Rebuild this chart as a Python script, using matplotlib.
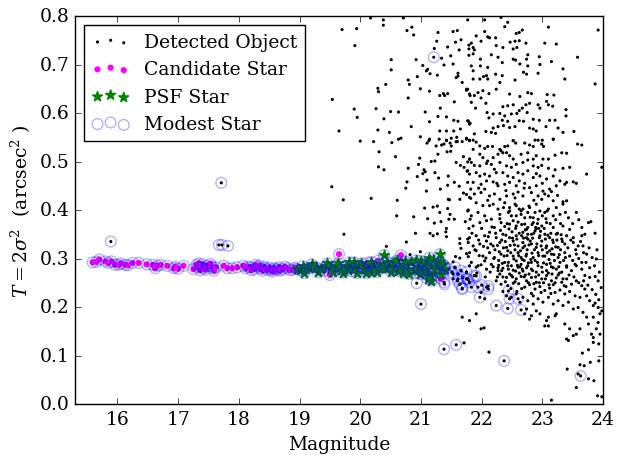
import numpy as np
import matplotlib
matplotlib.use("Agg")
import matplotlib.pyplot as plt

plt.style.use("classic")
plt.rcParams["font.family"] = ["DejaVu Serif"]
plt.rcParams["mathtext.fontset"] = "dejavuserif"
plt.rcParams["font.size"] = 13.5

# detected objects (magnitude, T)
det_upper = [
    (20.17, 0.796), (20.38, 0.792), (20.38, 0.781), (20.71, 0.796), (19.70, 0.772), (19.94, 0.774),
    (20.77, 0.770), (20.85, 0.777), (20.88, 0.761), (21.28, 0.766), (21.53, 0.768), (21.60, 0.770),
    (21.26, 0.748), (21.57, 0.746), (21.66, 0.751), (21.79, 0.740), (19.91, 0.739), (21.44, 0.736),
    (21.22, 0.733), (21.63, 0.730), (21.79, 0.719), (21.34, 0.713), (21.49, 0.718),
    (20.51, 0.710), (20.92, 0.710), (21.03, 0.698), (21.38, 0.699), (21.53, 0.701), (20.51, 0.689),
    (21.09, 0.687), (21.11, 0.690), (21.15, 0.681), (21.27, 0.678), (20.94, 0.675), (21.61, 0.682),
    (21.61, 0.676), (21.58, 0.673), (20.79, 0.668), (20.81, 0.659), (20.42, 0.659), (21.68, 0.663),
    (21.77, 0.649), (21.75, 0.647), (20.29, 0.651), (20.30, 0.644), (20.99, 0.650), (21.14, 0.645),
    (21.31, 0.636), (21.37, 0.640), (21.39, 0.636), (21.44, 0.640), (21.81, 0.636), (19.54, 0.628),
    (20.79, 0.631), (21.55, 0.623), (19.90, 0.608), (20.26, 0.609), (20.50, 0.603), (20.63, 0.602),
    (21.32, 0.610), (21.07, 0.602), (19.95, 0.591), (20.39, 0.588), (21.28, 0.593), (21.42, 0.592),
    (21.54, 0.585), (21.61, 0.583), (21.78, 0.583), (21.14, 0.582), (21.80, 0.577), (19.65, 0.563),
    (20.29, 0.565), (20.48, 0.560), (20.84, 0.572), (21.31, 0.563), (21.42, 0.563), (21.54, 0.563),
    (21.65, 0.567), (20.63, 0.546), (20.67, 0.548), (20.99, 0.551), (21.13, 0.543), (21.30, 0.546),
    (21.42, 0.544), (21.50, 0.548), (21.59, 0.550), (21.58, 0.541), (21.80, 0.544), (21.75, 0.548),
    (20.00, 0.542), (20.22, 0.541), (20.52, 0.539),
    # right upper
    (21.77, 0.792), (22.05, 0.792), (22.32, 0.797), (22.38, 0.778), (22.43, 0.787), (23.10, 0.777),
    (23.92, 0.771), (22.05, 0.768), (21.91, 0.759), (22.10, 0.757), (22.13, 0.755), (22.23, 0.755),
    (21.99, 0.748), (21.83, 0.744), (21.86, 0.735), (21.79, 0.732), (21.88, 0.730), (21.86, 0.722),
    (22.57, 0.764), (22.62, 0.766), (22.67, 0.771), (22.47, 0.746), (22.55, 0.748), (22.62, 0.749),
    (22.73, 0.744), (23.04, 0.744), (23.23, 0.742), (22.24, 0.739), (22.35, 0.735), (22.52, 0.732),
    (22.58, 0.735), (21.98, 0.711), (22.16, 0.720), (22.34, 0.704), (22.27, 0.715), (22.52, 0.711),
    (22.56, 0.709), (22.63, 0.701), (22.74, 0.711), (22.76, 0.720), (22.95, 0.716), (23.15, 0.706),
    (23.58, 0.715), (21.83, 0.697), (21.98, 0.697), (22.10, 0.694), (21.86, 0.687), (22.96, 0.700),
    (22.76, 0.697), (23.34, 0.691), (21.86, 0.670), (21.97, 0.670), (22.03, 0.675), (22.08, 0.677),
    (22.10, 0.670), (22.23, 0.680), (22.34, 0.677), (22.69, 0.684), (22.74, 0.680), (22.93, 0.682),
    (23.37, 0.670), (23.87, 0.660), (22.55, 0.668), (22.30, 0.663), (21.75, 0.649), (21.80, 0.639),
    (21.88, 0.636), (21.94, 0.642), (22.02, 0.646), (22.12, 0.640), (22.24, 0.649), (22.46, 0.639),
    (22.63, 0.634), (22.76, 0.642), (22.82, 0.640), (23.08, 0.638), (23.19, 0.637), (21.83, 0.622),
    (21.90, 0.610), (21.99, 0.631), (22.07, 0.620), (22.35, 0.613), (22.43, 0.615), (22.52, 0.617),
    (22.62, 0.605), (22.67, 0.610), (22.73, 0.617), (22.79, 0.620), (22.93, 0.617), (22.96, 0.610),
    (23.07, 0.624), (23.10, 0.617), (23.17, 0.614), (23.39, 0.607), (22.09, 0.601), (22.19, 0.598),
    (22.30, 0.599), (22.38, 0.594), (22.49, 0.598), (22.58, 0.599), (22.75, 0.601), (21.77, 0.584),
    (21.81, 0.579), (22.12, 0.590), (22.34, 0.585), (22.43, 0.583), (22.62, 0.584), (22.69, 0.583),
    (22.85, 0.587), (22.95, 0.585), (23.12, 0.585), (23.21, 0.585), (23.39, 0.594), (22.19, 0.569),
    (22.27, 0.572), (22.36, 0.574), (22.46, 0.570), (22.55, 0.572), (22.79, 0.569), (22.85, 0.567),
    (22.90, 0.563), (23.06, 0.572), (23.26, 0.569), (23.34, 0.560), (23.52, 0.562), (21.88, 0.557),
    (22.07, 0.562), (22.16, 0.560), (22.23, 0.558), (22.52, 0.543), (22.88, 0.544), (22.93, 0.544),
    (23.00, 0.544), (23.18, 0.546), (21.75, 0.546), (21.86, 0.544),
]

det_middle = [
    (21.10, 0.538), (21.14, 0.546), (21.25, 0.532), (21.34, 0.534), (21.38, 0.536), (21.42, 0.543),
    (21.48, 0.538), (21.50, 0.532), (21.60, 0.541), (21.68, 0.541), (20.31, 0.520), (20.58, 0.510),
    (21.43, 0.520), (21.49, 0.521), (21.28, 0.515), (21.70, 0.510), (20.98, 0.507), (21.17, 0.500),
    (21.23, 0.501), (21.80, 0.505), (21.77, 0.499), (20.30, 0.489), (20.39, 0.483), (20.79, 0.486),
    (20.96, 0.494), (21.58, 0.498), (21.65, 0.492), (21.71, 0.488), (21.05, 0.483), (21.07, 0.479),
    (21.03, 0.475), (21.23, 0.477), (21.76, 0.480), (21.45, 0.470), (21.29, 0.466), (20.94, 0.469),
    (21.10, 0.462), (20.77, 0.458), (21.55, 0.457), (21.44, 0.451), (21.63, 0.449), (21.32, 0.443),
    (19.53, 0.448), (20.75, 0.445), (21.09, 0.439), (21.70, 0.435), (21.82, 0.443), (21.75, 0.432),
    (19.72, 0.421), (20.18, 0.424), (20.61, 0.420), (21.45, 0.422), (21.47, 0.421), (21.64, 0.422),
    (21.82, 0.424), (21.06, 0.404), (21.20, 0.406), (21.27, 0.408), (21.44, 0.403), (21.78, 0.400),
    (21.31, 0.395), (21.48, 0.391), (21.46, 0.381), (21.55, 0.381), (21.81, 0.381), (20.60, 0.388),
    (20.88, 0.386), (21.11, 0.382), (21.22, 0.373), (21.33, 0.376), (21.73, 0.376), (21.42, 0.362),
    (21.79, 0.362), (21.15, 0.352), (21.20, 0.347), (21.27, 0.351), (21.41, 0.355), (21.42, 0.345),
    (19.73, 0.350), (20.91, 0.352), (20.76, 0.334), (20.43, 0.325), (20.99, 0.314), (20.82, 0.308),
    (21.64, 0.341), (21.77, 0.340), (21.78, 0.333), (21.66, 0.321), (21.75, 0.310), (21.64, 0.331),
    (21.57, 0.304), (21.64, 0.301), (21.78, 0.304), (21.53, 0.293),
    # faint side, upper half of the cloud
    (21.80, 0.543), (21.91, 0.540), (21.97, 0.532), (22.05, 0.527), (22.10, 0.531), (22.18, 0.531),
    (22.30, 0.525), (22.38, 0.531), (22.43, 0.532), (22.52, 0.543), (22.56, 0.538), (22.71, 0.538),
    (22.79, 0.534), (22.85, 0.531), (22.99, 0.536), (23.02, 0.531), (23.18, 0.546), (23.58, 0.536),
    (23.65, 0.534), (21.86, 0.525), (22.35, 0.518), (21.80, 0.505), (21.83, 0.498), (21.97, 0.515),
    (22.02, 0.508), (22.10, 0.501), (22.19, 0.508), (22.27, 0.515), (22.32, 0.522), (22.41, 0.518),
    (22.46, 0.512), (22.52, 0.505), (22.65, 0.515), (22.76, 0.518), (22.85, 0.505), (22.90, 0.512),
    (23.01, 0.505), (23.10, 0.505), (23.21, 0.513), (23.32, 0.518), (23.40, 0.517), (21.77, 0.481),
    (21.88, 0.492), (21.97, 0.491), (22.08, 0.496), (22.16, 0.494), (22.21, 0.484), (22.30, 0.498),
    (22.41, 0.491), (22.49, 0.488), (22.57, 0.494), (22.68, 0.498), (22.76, 0.503), (22.85, 0.491),
    (22.93, 0.488), (22.99, 0.492), (23.10, 0.486), (23.21, 0.483), (23.34, 0.486), (23.45, 0.488),
    (23.73, 0.474), (23.98, 0.488), (21.80, 0.474), (21.91, 0.477), (21.97, 0.470), (22.05, 0.474),
    (22.13, 0.470), (22.24, 0.477), (22.35, 0.477), (22.43, 0.470), (22.52, 0.467), (22.60, 0.477),
    (22.68, 0.474), (22.76, 0.481), (22.85, 0.467), (22.96, 0.470), (23.07, 0.464), (23.18, 0.470),
    (23.29, 0.460), (23.40, 0.457), (23.51, 0.458), (23.56, 0.455), (21.77, 0.457), (21.86, 0.457),
    (21.99, 0.453), (22.08, 0.460), (22.19, 0.458), (22.27, 0.450), (22.38, 0.453), (22.46, 0.457),
    (22.57, 0.450), (22.71, 0.455), (22.79, 0.446), (22.90, 0.450), (23.01, 0.439), (23.04, 0.433),
    (23.12, 0.443), (23.23, 0.450), (23.37, 0.453), (21.80, 0.426), (21.88, 0.433), (21.99, 0.436),
    (22.05, 0.443), (22.13, 0.429), (22.21, 0.433), (22.30, 0.422), (22.41, 0.429), (22.52, 0.433),
    (22.60, 0.437), (22.68, 0.429), (22.82, 0.436), (22.93, 0.429), (22.99, 0.422), (23.10, 0.429),
    (23.18, 0.419), (23.34, 0.417), (23.40, 0.419), (21.77, 0.398), (21.91, 0.415), (22.02, 0.409),
    (22.13, 0.409), (22.19, 0.412), (22.27, 0.402), (22.38, 0.415), (22.46, 0.405), (22.57, 0.409),
    (22.68, 0.402), (22.79, 0.405), (22.90, 0.412), (22.96, 0.398), (23.10, 0.402), (23.23, 0.405),
    (23.34, 0.412), (21.83, 0.388), (21.94, 0.395), (22.05, 0.388), (22.16, 0.381), (22.30, 0.391),
    (22.46, 0.398), (22.57, 0.388), (22.65, 0.391), (22.76, 0.395), (22.85, 0.384), (22.93, 0.381),
    (23.04, 0.395), (23.18, 0.388), (23.29, 0.391), (23.43, 0.384), (23.56, 0.395),
]

det_core = [
    (21.86, 0.367), (21.97, 0.374), (22.08, 0.378), (22.21, 0.364), (22.32, 0.374), (22.46, 0.371),
    (22.57, 0.367), (22.71, 0.371), (22.76, 0.364), (22.85, 0.374), (22.90, 0.362), (22.99, 0.367),
    (23.07, 0.374), (23.18, 0.364), (23.34, 0.367), (23.45, 0.360), (23.65, 0.364), (23.76, 0.374),
    (23.80, 0.376), (23.87, 0.352), (21.80, 0.343), (21.91, 0.347), (22.05, 0.347), (22.13, 0.354),
    (22.24, 0.343), (22.35, 0.350), (22.46, 0.343), (22.57, 0.347), (22.68, 0.354), (22.74, 0.343),
    (22.82, 0.350), (22.88, 0.357), (22.96, 0.347), (23.04, 0.350), (23.12, 0.343), (23.23, 0.350),
    (23.32, 0.340), (23.40, 0.347), (23.51, 0.343), (23.65, 0.347), (23.70, 0.350), (21.86, 0.326),
    (21.97, 0.330), (22.08, 0.336), (22.19, 0.326), (22.30, 0.333), (22.41, 0.323), (22.52, 0.336),
    (22.60, 0.326), (22.68, 0.333), (22.76, 0.340), (22.82, 0.330), (22.90, 0.323), (22.99, 0.336),
    (23.07, 0.326), (23.18, 0.333), (23.26, 0.323), (23.37, 0.330), (23.51, 0.333), (23.59, 0.326),
    (23.67, 0.326), (21.80, 0.312), (21.91, 0.316), (22.02, 0.305), (22.13, 0.312), (22.21, 0.302),
    (22.32, 0.309), (22.43, 0.316), (22.52, 0.305), (22.60, 0.312), (22.65, 0.302), (22.74, 0.309),
    (22.85, 0.302), (22.93, 0.312), (23.04, 0.305), (23.15, 0.309), (23.26, 0.302), (23.37, 0.312),
    (23.45, 0.305), (23.56, 0.309), (23.73, 0.309), (23.89, 0.299), (21.83, 0.292), (21.94, 0.285),
    (22.05, 0.295), (22.16, 0.288), (22.27, 0.281), (22.38, 0.292), (22.49, 0.285), (22.57, 0.295),
    (22.65, 0.288), (22.74, 0.281), (22.82, 0.292), (22.93, 0.285), (23.07, 0.288), (23.18, 0.281),
    (23.29, 0.292), (23.40, 0.285), (23.54, 0.288), (23.65, 0.292), (23.78, 0.281),
    (22.22, 0.318), (22.28, 0.296), (22.33, 0.338), (22.37, 0.305), (22.40, 0.348), (22.44, 0.292),
    (22.47, 0.327), (22.50, 0.355), (22.53, 0.299), (22.55, 0.318), (22.58, 0.340), (22.61, 0.306),
    (22.63, 0.283), (22.66, 0.347), (22.68, 0.322), (22.70, 0.296), (22.72, 0.359), (22.75, 0.318),
    (22.77, 0.291), (22.80, 0.336), (22.83, 0.311), (22.86, 0.352), (22.88, 0.296), (22.91, 0.330),
    (22.94, 0.306), (22.97, 0.356), (23.00, 0.318), (23.02, 0.291), (23.05, 0.340), (23.08, 0.312),
    (23.11, 0.298), (23.14, 0.352), (23.16, 0.320), (23.20, 0.296), (23.24, 0.338), (23.28, 0.308),
    (23.31, 0.349), (23.35, 0.296), (22.46, 0.268), (22.55, 0.252), (22.62, 0.270), (22.70, 0.262),
    (22.78, 0.268), (22.86, 0.248), (22.94, 0.266), (23.02, 0.250), (23.10, 0.270), (23.18, 0.246),
    (23.26, 0.266), (23.36, 0.244), (22.35, 0.262), (22.28, 0.286), (22.14, 0.272), (22.20, 0.300),
    (22.06, 0.262), (22.10, 0.322), (21.96, 0.306), (21.92, 0.270), (22.38, 0.366), (22.52, 0.378),
    (22.66, 0.370), (22.80, 0.385), (22.92, 0.372), (23.06, 0.382), (22.44, 0.395), (22.62, 0.402),
    (22.74, 0.360), (22.58, 0.232), (22.66, 0.238), (22.82, 0.228), (22.98, 0.230), (23.14, 0.228),
    (22.35, 0.232), (22.48, 0.238),
]

det_core_extra = [
    (21.84, 0.352), (21.89, 0.318), (21.95, 0.338), (22.00, 0.362), (22.03, 0.325), (22.07, 0.301),
    (22.11, 0.345), (22.15, 0.330), (22.17, 0.365), (22.23, 0.352), (22.26, 0.327), (22.29, 0.314),
    (22.31, 0.358), (22.34, 0.290), (22.36, 0.322), (22.39, 0.335), (22.42, 0.306), (22.45, 0.361),
    (22.48, 0.312), (22.51, 0.342), (22.54, 0.328), (22.56, 0.362), (22.59, 0.286), (22.62, 0.352),
    (22.64, 0.316), (22.67, 0.298), (22.69, 0.342), (22.71, 0.326), (22.73, 0.305), (22.76, 0.350),
    (22.78, 0.328), (22.81, 0.298), (22.84, 0.342), (22.87, 0.318), (22.89, 0.364), (22.92, 0.292),
    (22.95, 0.343), (22.98, 0.326), (23.01, 0.305), (23.03, 0.362), (23.06, 0.322), (23.09, 0.348),
    (23.12, 0.316), (23.13, 0.290), (23.17, 0.338), (23.19, 0.308), (23.22, 0.324), (23.25, 0.352),
    (23.27, 0.283), (23.30, 0.318), (23.33, 0.335), (23.38, 0.302), (23.42, 0.322), (23.47, 0.338),
    (23.50, 0.296), (23.55, 0.318), (23.60, 0.300), (23.63, 0.335), (23.68, 0.312), (23.72, 0.292),
    (23.77, 0.322), (23.82, 0.302), (23.86, 0.285), (23.90, 0.318), (23.94, 0.272), (23.97, 0.240),
    (22.26, 0.262), (22.33, 0.275), (22.39, 0.252), (22.44, 0.278), (22.51, 0.262), (22.56, 0.274),
    (22.61, 0.248), (22.67, 0.278), (22.72, 0.266), (22.77, 0.250), (22.84, 0.275), (22.89, 0.262),
    (22.95, 0.250), (23.00, 0.272), (23.05, 0.258), (23.11, 0.246), (23.16, 0.268), (23.21, 0.250),
    (23.28, 0.270), (23.34, 0.258), (23.39, 0.242), (23.44, 0.266), (23.52, 0.262), (23.60, 0.250),
    (23.68, 0.254), (23.75, 0.245), (23.82, 0.236), (23.88, 0.226), (23.93, 0.215),
    (22.30, 0.382), (22.36, 0.405), (22.42, 0.372), (22.49, 0.388), (22.55, 0.412), (22.60, 0.375),
    (22.65, 0.398), (22.71, 0.384), (22.78, 0.408), (22.83, 0.370), (22.88, 0.395), (22.94, 0.362),
    (23.00, 0.388), (23.08, 0.398), (23.13, 0.372), (23.22, 0.380), (23.30, 0.372), (23.38, 0.395),
    (23.50, 0.372), (23.60, 0.380), (22.40, 0.440), (22.55, 0.425), (22.70, 0.445), (22.86, 0.420),
    (23.00, 0.455), (23.15, 0.438), (22.25, 0.455), (22.10, 0.420), (21.95, 0.445), (22.62, 0.460),
    (22.90, 0.475), (23.25, 0.430),
]

det_lower = [
    (21.80, 0.285), (21.91, 0.282), (21.99, 0.287), (22.08, 0.278), (22.19, 0.283), (22.27, 0.275),
    (22.35, 0.280), (22.43, 0.285), (22.52, 0.276), (22.60, 0.282), (22.68, 0.274), (22.76, 0.285),
    (22.82, 0.278), (22.90, 0.272), (22.99, 0.282), (23.07, 0.275), (23.15, 0.283), (23.23, 0.278),
    (23.32, 0.272), (23.40, 0.282), (23.48, 0.275), (23.56, 0.285), (23.65, 0.278), (23.70, 0.265),
    (23.78, 0.261), (23.87, 0.263), (23.92, 0.254), (22.30, 0.268), (22.41, 0.261), (22.49, 0.265),
    (22.57, 0.258), (22.65, 0.263), (22.74, 0.254), (22.82, 0.261), (22.90, 0.251), (22.99, 0.258),
    (23.07, 0.265), (23.15, 0.254), (23.23, 0.260), (23.32, 0.251), (23.40, 0.258), (23.48, 0.247),
    (23.56, 0.254), (23.65, 0.244), (23.70, 0.237), (22.24, 0.254), (22.32, 0.247), (22.43, 0.244),
    (22.52, 0.249), (22.71, 0.241), (22.79, 0.246), (22.88, 0.237), (22.96, 0.242), (23.04, 0.234),
    (23.12, 0.239), (23.21, 0.230), (23.29, 0.235), (23.37, 0.227), (23.45, 0.232), (23.54, 0.223),
    (23.62, 0.220), (23.73, 0.223), (23.78, 0.213), (23.84, 0.203), (23.87, 0.208), (23.92, 0.199),
    (23.95, 0.186), (23.98, 0.192), (23.84, 0.179), (23.92, 0.168), (23.89, 0.155), (23.95, 0.144),
    (23.81, 0.144), (23.84, 0.137), (22.57, 0.227), (22.68, 0.220), (22.76, 0.213), (22.85, 0.223),
    (22.93, 0.217), (23.01, 0.210), (23.10, 0.220), (23.18, 0.206), (23.26, 0.213), (23.34, 0.203),
    (23.43, 0.210), (23.51, 0.196), (23.59, 0.199), (23.67, 0.189), (23.73, 0.179), (23.76, 0.165),
    (23.62, 0.155), (23.56, 0.144), (23.51, 0.141), (23.43, 0.131), (23.40, 0.134), (23.45, 0.155),
    (23.37, 0.165), (23.23, 0.186), (23.10, 0.179), (23.10, 0.161), (22.96, 0.186), (22.90, 0.192),
    (22.82, 0.182), (22.74, 0.196), (22.85, 0.206), (22.79, 0.175), (22.71, 0.186), (22.41, 0.223),
    (22.49, 0.220), (22.63, 0.210), (22.05, 0.217), (21.99, 0.230), (22.08, 0.241), (21.91, 0.186),
    (21.80, 0.172), (21.68, 0.179), (21.99, 0.155), (22.04, 0.157), (21.71, 0.126), (22.12, 0.107),
    (23.07, 0.172), (23.21, 0.182), (23.04, 0.161), (23.84, 0.127), (23.76, 0.112), (23.66, 0.105),
    (23.62, 0.081), (23.41, 0.072), (23.59, 0.062), (23.79, 0.086), (23.85, 0.048), (23.91, 0.017),
    (23.76, 0.052), (23.69, 0.079), (23.56, 0.034), (23.93, 0.089), (23.93, 0.124), (23.15, 0.008),
    (23.98, 0.015), (21.39, 0.285), (21.45, 0.278), (21.51, 0.272), (21.56, 0.282), (21.61, 0.268),
    (21.66, 0.275), (21.53, 0.258), (21.60, 0.254), (21.69, 0.261), (21.64, 0.247), (21.75, 0.272),
    (21.80, 0.251),
]

# stars along the stellar locus
candidate = [
    (15.59, 0.292), (15.65, 0.293), (15.70, 0.298), (15.80, 0.294), (15.85, 0.291), (15.90, 0.294),
    (15.96, 0.287), (16.02, 0.287), (16.05, 0.290), (16.13, 0.287), (16.17, 0.286), (16.25, 0.291),
    (16.35, 0.291), (16.48, 0.288), (16.58, 0.287), (16.62, 0.280), (16.66, 0.285), (16.71, 0.287),
    (16.82, 0.285), (16.93, 0.280), (16.95, 0.283), (17.00, 0.279), (17.09, 0.285), (17.25, 0.278),
    (17.30, 0.287), (17.32, 0.282), (17.34, 0.290), (17.36, 0.276), (17.38, 0.283), (17.40, 0.288),
    (17.43, 0.280), (17.45, 0.277), (17.48, 0.285), (17.53, 0.289), (17.55, 0.284), (17.58, 0.280),
    (17.59, 0.275), (17.62, 0.282), (17.75, 0.285), (17.81, 0.280), (17.89, 0.280), (17.97, 0.282),
    (18.07, 0.285), (18.11, 0.280), (18.15, 0.283), (18.19, 0.282), (18.21, 0.276), (18.25, 0.278),
    (18.28, 0.287), (18.30, 0.283), (18.33, 0.285), (18.36, 0.279), (18.39, 0.275), (18.42, 0.283),
    (18.43, 0.280), (18.47, 0.277), (18.50, 0.281), (18.53, 0.276), (18.55, 0.273), (18.58, 0.280),
    (18.61, 0.277), (18.64, 0.278), (18.66, 0.282), (18.68, 0.275), (18.72, 0.278), (18.76, 0.283),
    (18.80, 0.280), (18.84, 0.276), (18.88, 0.277), (18.92, 0.281), (19.10, 0.278), (19.23, 0.282),
    (19.40, 0.275), (19.50, 0.266), (19.65, 0.309), (19.85, 0.274), (20.05, 0.282), (20.12, 0.291),
    (20.29, 0.295), (20.67, 0.307), (20.95, 0.276), (21.02, 0.274), (21.33, 0.258),
]

psf = [
    (18.95, 0.279), (19.00, 0.276), (19.05, 0.284), (19.08, 0.270), (19.16, 0.280), (19.20, 0.288),
    (19.27, 0.282), (19.31, 0.272), (19.35, 0.278), (19.43, 0.284), (19.46, 0.290), (19.51, 0.280),
    (19.55, 0.273), (19.60, 0.285), (19.64, 0.290), (19.68, 0.277), (19.71, 0.271), (19.76, 0.284),
    (19.79, 0.276), (19.82, 0.292), (19.90, 0.280), (19.90, 0.292), (19.94, 0.270), (19.98, 0.284),
    (20.02, 0.290), (20.07, 0.278), (20.10, 0.270), (20.15, 0.285), (20.18, 0.273), (20.18, 0.293),
    (20.23, 0.280), (20.27, 0.272), (20.31, 0.289), (20.35, 0.281), (20.39, 0.307), (20.40, 0.280),
    (20.44, 0.293), (20.48, 0.285), (20.51, 0.273), (20.53, 0.280), (20.56, 0.292), (20.60, 0.296),
    (20.62, 0.275), (20.66, 0.281), (20.70, 0.287), (20.70, 0.271), (20.74, 0.294), (20.78, 0.278),
    (20.81, 0.268), (20.84, 0.292), (20.88, 0.277), (20.92, 0.296), (20.95, 0.282), (20.98, 0.268),
    (21.00, 0.295), (21.03, 0.273), (21.06, 0.289), (21.09, 0.278), (21.11, 0.265), (21.11, 0.258),
    (21.14, 0.302), (21.17, 0.285), (21.17, 0.254), (21.20, 0.296), (21.22, 0.271), (21.26, 0.282),
    (21.31, 0.309), (21.31, 0.292), (21.33, 0.268), (21.36, 0.288), (21.39, 0.278),
]

modest_extra = [
    (15.89, 0.335), (17.67, 0.328), (17.72, 0.328), (17.82, 0.326), (17.71, 0.456), (21.21, 0.715),
    (20.93, 0.249), (21.00, 0.206), (21.38, 0.113), (21.58, 0.122), (22.37, 0.089), (23.63, 0.058),
    (21.97, 0.220), (22.24, 0.203), (22.43, 0.197), (22.65, 0.194), (22.46, 0.217), (22.60, 0.217),
    (21.94, 0.241), (21.83, 0.241), (21.75, 0.258), (21.88, 0.265), (22.44, 0.233), (22.11, 0.237),
    (21.91, 0.264), (21.78, 0.256), (21.68, 0.237), (21.38, 0.251), (21.53, 0.268), (21.61, 0.258),
    (22.00, 0.245), (22.11, 0.243), (21.20, 0.258), (21.39, 0.247), (21.68, 0.239), (21.77, 0.258),
    (21.39, 0.285), (21.45, 0.278), (21.51, 0.272), (21.56, 0.282), (21.61, 0.268), (21.66, 0.275),
    (21.60, 0.254), (21.69, 0.261), (21.64, 0.247), (21.75, 0.272), (21.80, 0.251),
]

detected = np.array(det_upper + det_middle + det_core + det_core_extra + det_lower + modest_extra)
cand = np.array(candidate)
psf_arr = np.array(psf)
modest = np.array(candidate + psf + modest_extra)

fig = plt.figure(figsize=(6.22, 4.56), dpi=100)
ax = fig.add_axes([0.1206, 0.1118, 0.8489, 0.8509])

ax.scatter(detected[:, 0], detected[:, 1], s=5, c="k", edgecolors="none", label="Detected Object")
ax.scatter(cand[:, 0], cand[:, 1], s=20, c="magenta", edgecolors="none", label="Candidate Star")
ax.scatter(psf_arr[:, 0], psf_arr[:, 1], s=55, c="g", marker="*", edgecolors="g", label="PSF Star")
ax.scatter(modest[:, 0], modest[:, 1], s=60, facecolors="none", edgecolors="b", alpha=0.3,
           linewidths=1, label="Modest Star")

ax.set_xlim(15.3, 24)
ax.set_ylim(0, 0.8)
ax.set_xticks(range(16, 25))
ax.set_xlabel("Magnitude")
ax.set_ylabel(r"$T = 2\sigma^2\ \ (\mathrm{arcsec}^2\ )$")
ax.legend(loc="upper left", scatterpoints=3, fontsize=13.5)

fig.savefig("out.png", dpi=100)
